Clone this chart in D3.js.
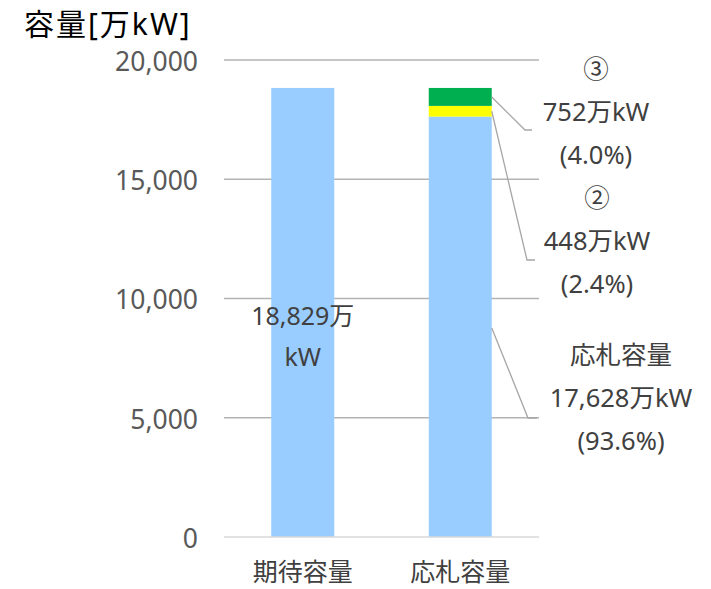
<!DOCTYPE html>
<html>
<head>
<meta charset="utf-8">
<script src="https://cdn.jsdelivr.net/npm/d3@7"></script>
<style>
  body { margin: 0; background: #fff; }
  svg text { font-family: "Noto Sans", "Noto Sans CJK JP", sans-serif; }
</style>
</head>
<body>
<svg id="chart" width="711" height="589"></svg>
<script>
// data
const categories = ['期待容量', '応札容量'];
const expected = [18829];
const segmentNames = ['応札容量', '②', '③'];
const segmentValues = [17628, 448, 752];
const segmentShares = ['93.6%', '2.4%', '4.0%'];
const segmentColors = ['#99ccff', '#ffff00', '#00b050'];
const yTicks = [0, 5000, 10000, 15000, 20000];

const margin = { top: 60, right: 172, bottom: 52, left: 224 };
const width = 711, height = 589;
const fontFamily = '"Noto Sans", "Noto Sans CJK JP", sans-serif';

const svg = d3.select('#chart');

const x = d3.scaleBand()
    .domain(categories)
    .range([margin.left, width - margin.right])
    .paddingInner(0.6)
    .paddingOuter(0.3);

const y = d3.scaleLinear()
    .domain([0, 20000])
    .range([height - margin.bottom, margin.top]);

// gridlines
svg.append('g')
    .selectAll('line')
    .data(yTicks.slice(1))
    .join('line')
    .attr('x1', margin.left)
    .attr('x2', width - margin.right)
    .attr('y1', d => y(d))
    .attr('y2', d => y(d))
    .attr('stroke', '#b3b3b3')
    .attr('stroke-width', 1.3);

// y axis labels
const yAxis = svg.append('g')
    .attr('transform', `translate(${margin.left - 26}, 2)`)
    .call(d3.axisLeft(y).tickValues(yTicks).tickFormat(d3.format(',')).tickSize(0).tickPadding(0));
yAxis.select('.domain').remove();
yAxis.selectAll('text')
    .attr('font-size', 26.5)
    .attr('fill', '#595959')
    .attr('font-family', fontFamily);

// title
svg.append('text')
    .attr('x', 24)
    .attr('y', 35)
    .attr('font-size', 30)
    .attr('letter-spacing', 2)
    .attr('fill', '#000')
    .text('容量[万kW]');

// expected bar
svg.append('rect')
    .attr('x', x(categories[0]))
    .attr('width', x.bandwidth())
    .attr('y', y(expected[0]))
    .attr('height', y(0) - y(expected[0]))
    .attr('fill', segmentColors[0]);

// stacked bar
const stacked = d3.stack().keys(d3.range(segmentValues.length))([segmentValues]);
svg.append('g')
    .selectAll('rect')
    .data(stacked)
    .join('rect')
    .attr('x', x(categories[1]))
    .attr('width', x.bandwidth())
    .attr('y', d => y(d[0][1]))
    .attr('height', d => y(d[0][0]) - y(d[0][1]))
    .attr('fill', (d, i) => segmentColors[i]);

// x axis line
svg.append('line')
    .attr('x1', margin.left)
    .attr('x2', width - margin.right)
    .attr('y1', y(0))
    .attr('y2', y(0))
    .attr('stroke', '#d9d9d9')
    .attr('stroke-width', 1.3);

// x labels
const xAxis = svg.append('g')
    .attr('transform', `translate(0, ${y(0)})`)
    .call(d3.axisBottom(x).tickSize(0).tickPadding(26));
xAxis.select('.domain').remove();
xAxis.selectAll('text')
    .attr('font-size', 25)
    .attr('fill', '#404040')
    .attr('font-family', fontFamily);

// label inside expected bar
const cx0 = x(categories[0]) + x.bandwidth() / 2;
const lbl0 = svg.append('text')
    .attr('text-anchor', 'middle')
    .attr('font-size', 25)
    .attr('fill', '#404040');
lbl0.append('tspan').attr('x', cx0).attr('y', 325).text(d3.format(',')(expected[0]) + '万');
lbl0.append('tspan').attr('x', cx0).attr('y', 366).text('kW');

// callouts for stacked segments
const barRight = x(categories[1]) + x.bandwidth();
const callouts = [
    { i: 0, anchorY: 328, elbowX: 528, elbowY: 418, endX: 537, textX: 621, textY: 364 },
    { i: 1, anchorY: null, elbowX: 527, elbowY: 260, endX: 535, textX: 597, textY: 207 },
    { i: 2, anchorY: null, elbowX: 525, elbowY: 130, endX: 532, textX: 596, textY: 78 }
];
callouts.forEach(c => {
    const seg = stacked[c.i][0];
    const sy = c.anchorY !== null ? c.anchorY : (y(seg[0]) + y(seg[1])) / 2;
    svg.append('polyline')
        .attr('points', `${barRight},${sy} ${c.elbowX},${c.elbowY} ${c.endX},${c.elbowY}`)
        .attr('fill', 'none')
        .attr('stroke', '#a6a6a6')
        .attr('stroke-width', 1.3);
    const t = svg.append('text')
        .attr('text-anchor', 'middle')
        .attr('font-size', 25.5)
        .attr('fill', '#404040');
    t.append('tspan').attr('x', c.textX).attr('y', c.textY).text(segmentNames[c.i]);
    t.append('tspan').attr('x', c.textX).attr('y', c.textY + 43)
        .text(d3.format(',')(segmentValues[c.i]) + '万kW');
    t.append('tspan').attr('x', c.textX).attr('y', c.textY + 86)
        .text('(' + segmentShares[c.i] + ')');
});
</script>
</body>
</html>
